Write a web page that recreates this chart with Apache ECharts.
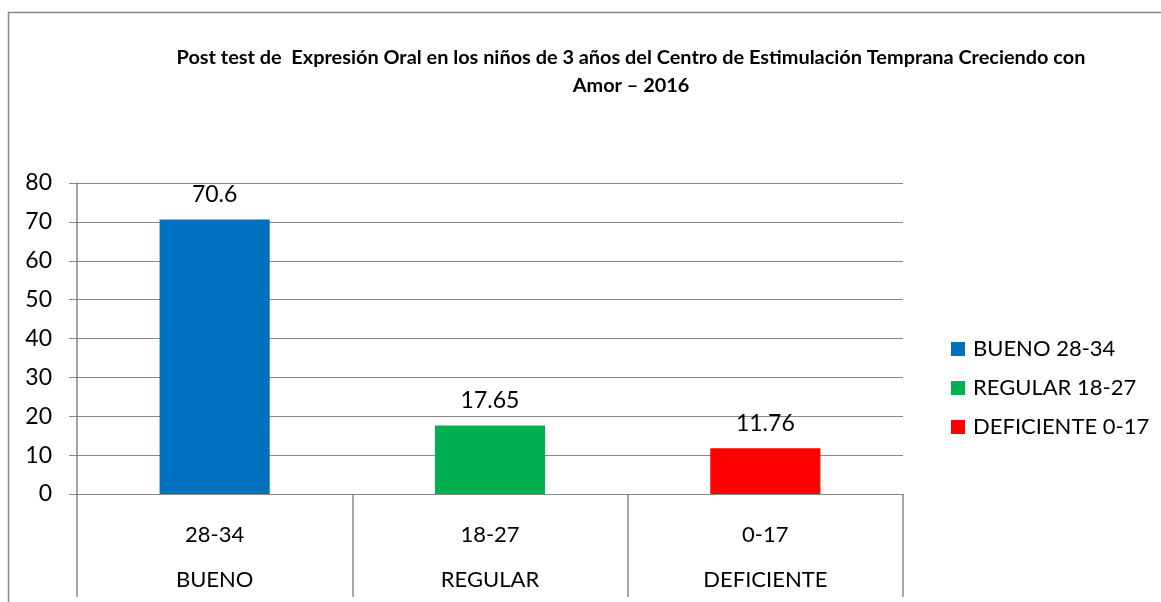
<!DOCTYPE html>
<html>
<head>
<meta charset="utf-8">
<script src="https://cdn.jsdelivr.net/npm/echarts@6/dist/echarts.min.js"></script>
<style>
  html, body { margin: 0; padding: 0; background: #fff; }
  #chart { width: 1161px; height: 602px; }
</style>
</head>
<body>
<div id="chart"></div>
<script>
// datos del grafico
const categories = ["BUENO", "REGULAR", "DEFICIENTE"];
const ranges = ["28-34", "18-27", "0-17"];
const values = [70.6, 17.65, 11.76];
const seriesNames = ["BUENO 28-34", "REGULAR 18-27", "DEFICIENTE 0-17"];
const colors = ["#0070C0", "#00B050", "#FF0000"];
const yTicks = [0, 10, 20, 30, 40, 50, 60, 70, 80];

const gray = "#898989";
const font = "Lato";

// una serie por categoria, superpuestas en la misma posicion
const series = values.map((v, i) => ({
  name: seriesNames[i],
  type: "bar",
  barWidth: "40%",
  barGap: "-100%",
  itemStyle: { color: colors[i] },
  label: {
    show: true,
    position: "top",
    distance: 13,
    color: "#000",
    fontFamily: font,
    fontSize: 23
  },
  data: values.map((val, j) => (j === i ? val : "-"))
}));

const myChart = echarts.init(document.getElementById("chart"));
myChart.setOption({
  backgroundColor: "#fff",
  animation: false,
  graphic: [
    {
      type: "rect",
      shape: { x: 8.5, y: 12.5, width: 1300, height: 800 },
      style: { fill: "none", stroke: gray, lineWidth: 1.5 },
      silent: true
    }
  ],
  title: {
    text: "Post test de  Expresión Oral en los niños de 3 años del Centro de Estimulación Temprana Creciendo con\nAmor – 2016",
    left: 626,
    top: 39,
    textAlign: "center",
    textStyle: {
      fontFamily: font,
      fontWeight: "bold",
      fontSize: 19.9,
      lineHeight: 28,
      color: "#000"
    }
  },
  legend: {
    orient: "vertical",
    left: 946,
    top: 333,
    itemWidth: 14,
    itemHeight: 14,
    itemGap: 17,
    icon: "rect",
    data: seriesNames,
    textStyle: {
      fontFamily: font,
      fontSize: 22,
      lineHeight: 22,
      color: "#000",
      padding: [0, 0, 0, 3]
    }
  },
  grid: { left: 77, right: 258, top: 183, bottom: 108, containLabel: false },
  xAxis: {
    type: "category",
    data: categories,
    axisLine: { show: true, lineStyle: { color: gray, width: 1 } },
    axisTick: { show: true, length: 103, interval: 0, lineStyle: { color: gray, width: 1.5 } },
    axisLabel: {
      interval: 0,
      margin: 18,
      formatter: (value, idx) => "{a|" + ranges[idx] + "}\n{b|" + value + "}",
      rich: {
        a: { fontFamily: font, fontSize: 22, lineHeight: 45, color: "#000" },
        b: { fontFamily: font, fontSize: 22, lineHeight: 45, color: "#000" }
      }
    }
  },
  yAxis: {
    type: "value",
    min: yTicks[0],
    max: yTicks[yTicks.length - 1],
    interval: 10,
    axisLine: { show: true, lineStyle: { color: gray, width: 1.5 } },
    axisTick: { show: true, length: 8, lineStyle: { color: gray } },
    axisLabel: { margin: 25, fontFamily: font, fontSize: 23, color: "#000" },
    splitLine: { show: true, lineStyle: { color: gray, width: 1 } }
  },
  series: series
});
</script>
</body>
</html>
